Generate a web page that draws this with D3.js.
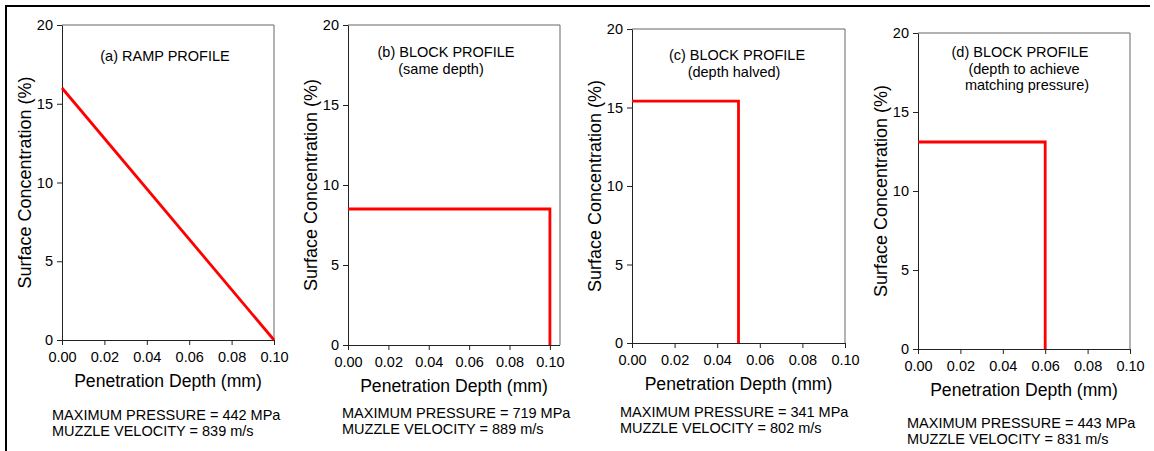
<!DOCTYPE html>
<html>
<head>
<meta charset="utf-8">
<script src="https://cdn.jsdelivr.net/npm/d3@7"></script>
<style>
  body { margin: 0; background: #fff; }
  svg { display: block; font-family: "Liberation Sans", Arial, sans-serif; }
</style>
</head>
<body>
<div id="chart"></div>
<script>
// data
const xTicks = [0.00, 0.02, 0.04, 0.06, 0.08, 0.10];
const yTicks = [0, 5, 10, 15, 20];
const xMax = [0.10, 0.105, 0.10, 0.10];
const yMax = 20;

const rampDepth = [0.00, 0.10];
const rampConc = [16, 0];
const blockBDepth = [0.00, 0.10, 0.10];
const blockBConc = [8.5, 8.5, 0];
const blockCDepth = [0.00, 0.05, 0.05];
const blockCConc = [15.4, 15.4, 0];
const blockDDepth = [0.00, 0.06, 0.06];
const blockDConc = [13.1, 13.1, 0];

const titles = [
  ['(a) RAMP PROFILE'],
  ['(b) BLOCK PROFILE', '(same depth)'],
  ['(c) BLOCK PROFILE', '(depth halved)'],
  ['(d) BLOCK PROFILE', '(depth to achieve', 'matching pressure)']
];
const pressures = [442, 719, 341, 443];
const velocities = [839, 889, 802, 831];

const depths = [rampDepth, blockBDepth, blockCDepth, blockDDepth];
const concs = [rampConc, blockBConc, blockCConc, blockDConc];

// layout of each panel (pixels)
const boxes = [
  { left: 62, right: 274, top: 25, bottom: 340, tx: [165], ty: 61, nx: 52, ny: 420 },
  { left: 348, right: 560, top: 25, bottom: 345, tx: [446, 441], ty: 57, nx: 342, ny: 418 },
  { left: 632, right: 845, top: 29, bottom: 343, tx: [737, 734], ty: 60, nx: 620, ny: 417 },
  { left: 918, right: 1130, top: 33, bottom: 349, tx: [1020, 1024, 1027], ty: 57, nx: 907, ny: 428 }
];

const width = 1154, height = 451;
const svg = d3.select('#chart').append('svg')
  .attr('width', width)
  .attr('height', height);

// outer frame (only top and left visible in the crop)
svg.append('path')
  .attr('d', 'M6,451 V6 H1150')
  .attr('fill', 'none')
  .attr('stroke', '#000')
  .attr('stroke-width', 2);

boxes.forEach((b, i) => {
  const x = d3.scaleLinear().domain([0, xMax[i]]).range([b.left, b.right]);
  const y = d3.scaleLinear().domain([0, yMax]).range([b.bottom, b.top]);
  const g = svg.append('g');

  // top / right frame
  g.append('path')
    .attr('d', `M${b.left},${b.top} H${b.right} V${b.bottom}`)
    .attr('fill', 'none')
    .attr('stroke', '#666')
    .attr('stroke-width', 1);

  const xAxis = g.append('g')
    .attr('transform', `translate(0,${b.bottom})`)
    .call(d3.axisBottom(x).tickValues(xTicks).tickFormat(d3.format('.2f')).tickSize(5).tickSizeOuter(0).tickPadding(7));
  const yAxis = g.append('g')
    .attr('transform', `translate(${b.left},0)`)
    .call(d3.axisLeft(y).tickValues(yTicks).tickFormat(d3.format('d')).tickSize(5).tickSizeOuter(0).tickPadding(4));

  [xAxis, yAxis].forEach(ax => {
    ax.select('.domain').attr('stroke', '#222');
    ax.selectAll('.tick line').attr('stroke', '#222');
    ax.selectAll('.tick text')
      .attr('fill', '#000')
      .style('font-size', '14.5px')
      .style('font-family', '"Liberation Sans", Arial, sans-serif');
  });
  // extend bottom axis line to the right frame
  xAxis.select('.domain').attr('d', `M${b.left},0.5H${b.right}`);

  g.append('text')
    .attr('x', (b.left + b.right) / 2)
    .attr('y', b.bottom + 47)
    .attr('text-anchor', 'middle')
    .style('font-size', '17.6px')
    .text('Penetration Depth (mm)');

  g.append('text')
    .attr('transform', `translate(${b.left - 31},${(b.top + b.bottom) / 2}) rotate(-90)`)
    .attr('text-anchor', 'middle')
    .style('font-size', '18px')
    .text('Surface Concentration (%)');

  // profile line
  const pts = depths[i].map((d, k) => [d, concs[i][k]]);
  g.append('path')
    .datum(pts)
    .attr('d', d3.line().x(d => x(d[0])).y(d => y(d[1])))
    .attr('fill', 'none')
    .attr('stroke', '#ff0000')
    .attr('stroke-width', 2.8);

  titles[i].forEach((t, k) => {
    g.append('text')
      .attr('x', b.tx[k])
      .attr('y', b.ty + k * 16.5)
      .attr('text-anchor', 'middle')
      .style('font-size', '14.5px')
      .text(t);
  });

  g.append('text')
    .attr('x', b.nx)
    .attr('y', b.ny)
    .style('font-size', '14.5px')
    .text(`MAXIMUM PRESSURE = ${pressures[i]} MPa`);
  g.append('text')
    .attr('x', b.nx)
    .attr('y', b.ny + 15.5)
    .style('font-size', '14.5px')
    .text(`MUZZLE VELOCITY = ${velocities[i]} m/s`);
});
</script>
</body>
</html>
